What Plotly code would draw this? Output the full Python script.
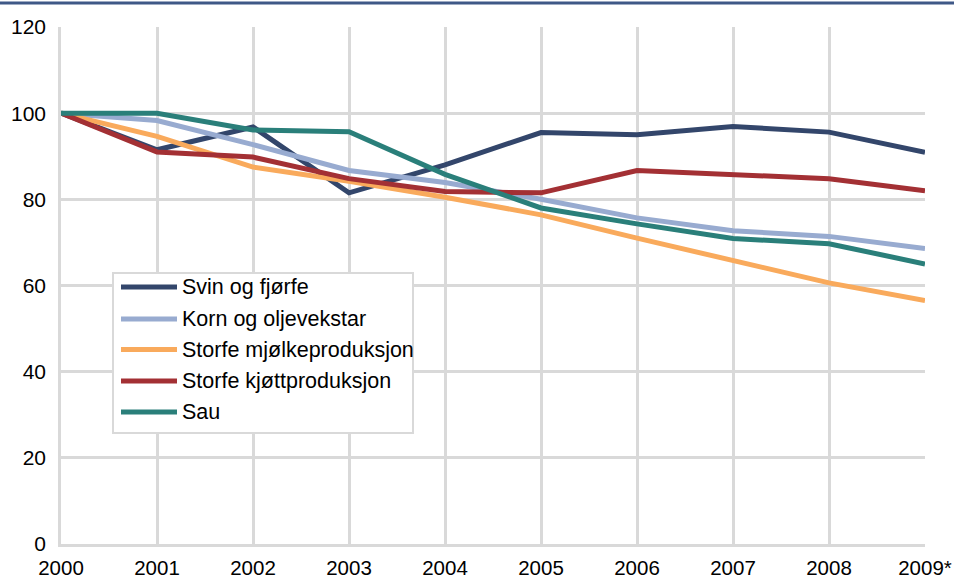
import plotly.graph_objects as go

years = ["2000", "2001", "2002", "2003", "2004", "2005", "2006", "2007", "2008", "2009*"]
svin = [100, 91.5, 96.8, 81.5, 88.0, 95.5, 95.0, 96.9, 95.6, 90.9]
korn = [100, 98.3, 92.7, 86.7, 83.9, 80.0, 75.7, 72.7, 71.4, 68.6]
mjolk = [100, 94.6, 87.5, 84.2, 80.5, 76.4, 71.0, 65.8, 60.6, 56.5]
kjott = [100, 91.0, 89.8, 84.8, 81.8, 81.5, 86.7, 85.7, 84.8, 82.0]
sau = [100, 100, 96.1, 95.7, 85.8, 78.0, 74.3, 70.9, 69.7, 65.0]

names = ["Svin og fjørfe", "Korn og oljevekstar", "Storfe mjølkeproduksjon",
         "Storfe kjøttproduksjon", "Sau"]
series = [svin, korn, mjolk, kjott, sau]
colors = ["#33466b", "#98abd0", "#f9aa5c", "#a33034", "#2a7f7a"]

y_ticks = [0, 20, 40, 60, 80, 100, 120]

W, H = 954, 579
ml, mr, mt, mb = 61, 29, 27, 35
pw, ph = W - ml - mr, H - mt - mb


def px_x(x):
    return (x - ml) / pw


def px_y(y):
    return (H - mb - y) / ph


fig = go.Figure()
xs = list(range(len(years)))
for name, vals, col in zip(names, series, colors):
    fig.add_trace(go.Scatter(x=xs, y=vals, name=name, mode="lines",
                             line=dict(color=col, width=5), showlegend=False))

# legend box (drawn manually to match the longer line samples)
shapes = [dict(type="line", xref="paper", yref="paper",
               x0=px_x(0), x1=px_x(W), y0=px_y(3), y1=px_y(3),
               line=dict(color="#3f5887", width=3)),
          dict(type="rect", xref="paper", yref="paper",
               x0=px_x(113), x1=px_x(413), y0=px_y(273), y1=px_y(433),
               fillcolor="white", line=dict(color="#d9d9d9", width=2), layer="above")]
annotations = []
row_y = [287, 319, 349.5, 381, 412]
for name, col, ry in zip(names, colors, row_y):
    shapes.append(dict(type="line", xref="paper", yref="paper",
                       x0=px_x(121), x1=px_x(177), y0=px_y(ry), y1=px_y(ry),
                       line=dict(color=col, width=5), layer="above"))
    annotations.append(dict(xref="paper", yref="paper", x=px_x(180), y=px_y(ry),
                            text=name, showarrow=False, xanchor="left", yanchor="middle",
                            font=dict(size=21.5, color="black")))

fig.update_layout(
    width=W, height=H,
    margin=dict(l=ml, r=mr, t=mt, b=mb, pad=0, autoexpand=False),
    paper_bgcolor="white", plot_bgcolor="white",
    font=dict(family="Liberation Sans, Arial, sans-serif", size=21, color="black"),
    xaxis=dict(range=[0, 9], tickvals=xs, ticktext=years, showgrid=True,
               gridcolor="#d9d9d9", gridwidth=2.5, zeroline=False,
               showline=True, linecolor="#d9d9d9", linewidth=3,
               ticks="", ticklabelstandoff=3, tickfont=dict(size=20.5),
               automargin=False),
    yaxis=dict(range=[0, 120], tickvals=y_ticks, showgrid=True,
               gridcolor="#d9d9d9", gridwidth=2.5, zeroline=False,
               showline=True, linecolor="#d9d9d9", linewidth=2.5,
               ticks="", ticklabelstandoff=8, tickfont=dict(size=21),
               automargin=False),
    showlegend=False,
    shapes=shapes,
    annotations=annotations,
)

fig.write_html("out.html", config={"displayModeBar": False},
               post_script="document.body.style.margin='0px';document.body.style.overflow='hidden';")
